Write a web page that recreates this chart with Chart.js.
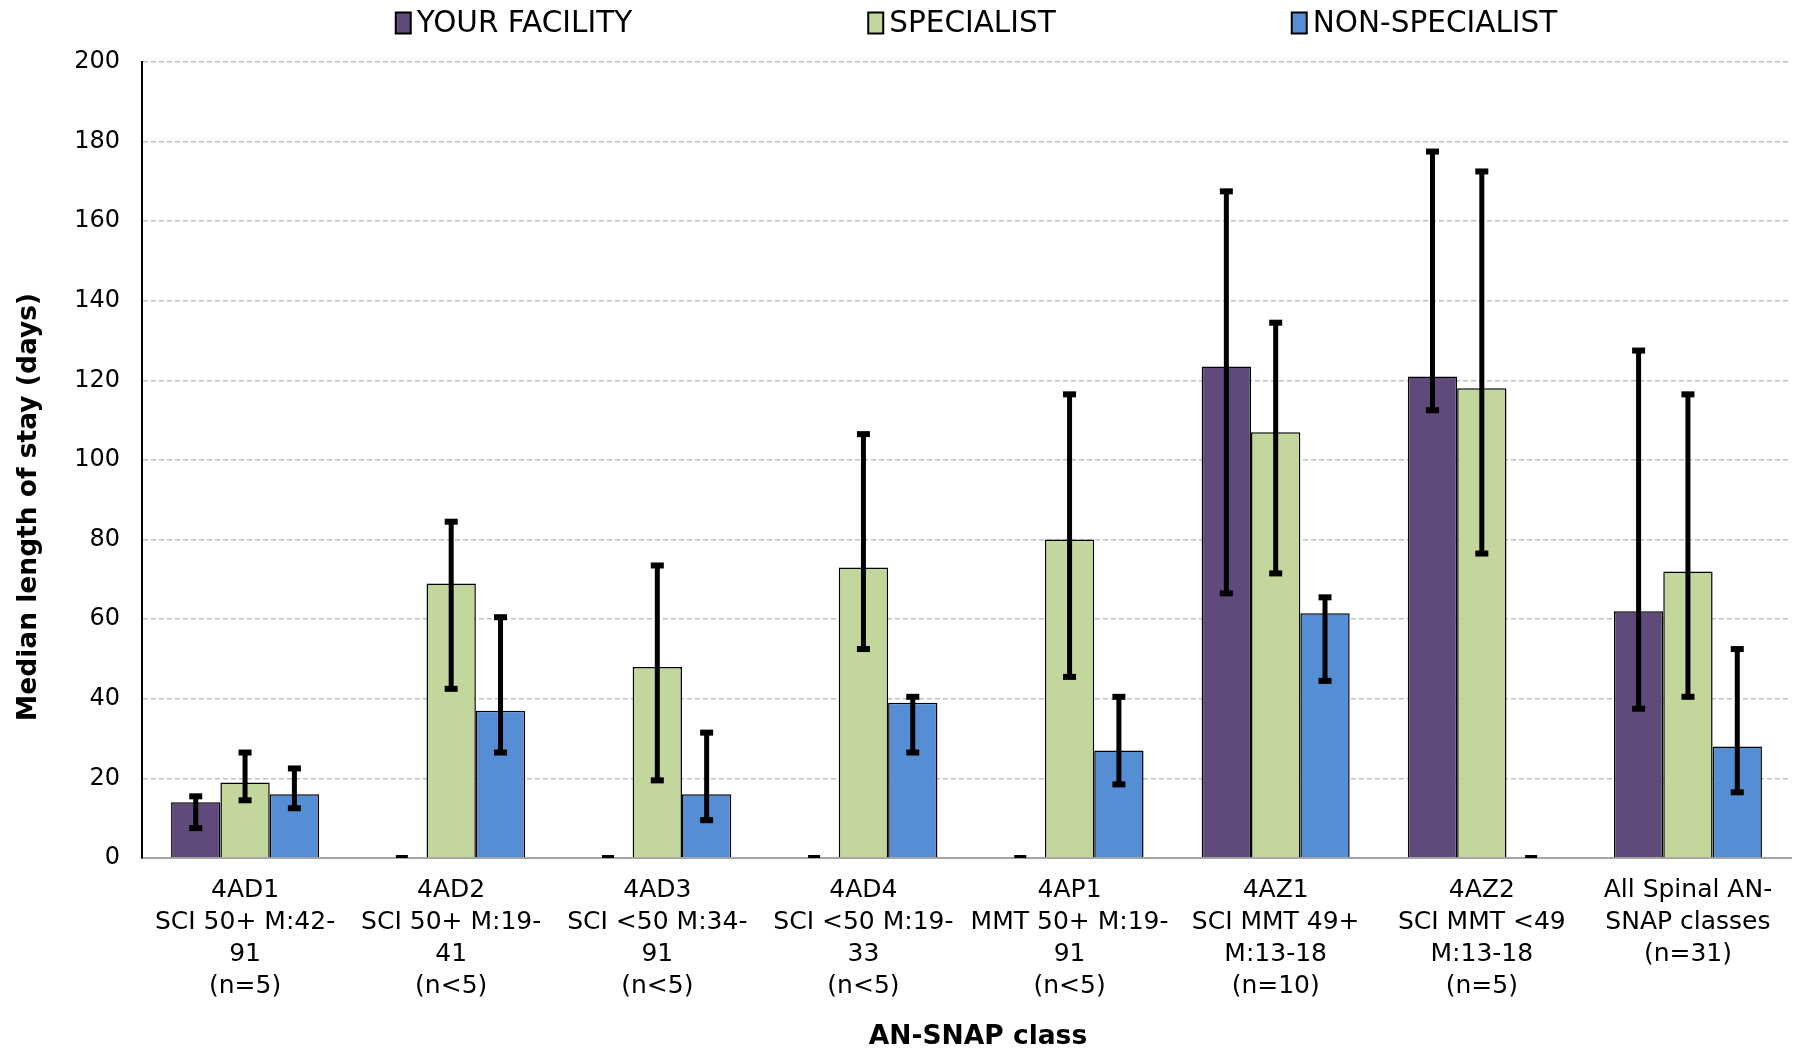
<!DOCTYPE html>
<html>
<head>
<meta charset="utf-8">
<script src="https://cdn.jsdelivr.net/npm/chart.js@4.4.1/dist/chart.umd.min.js"></script>
<style>
  html, body { margin: 0; padding: 0; background: #fff; }
  #wrap { width: 1798px; height: 1052px; }
</style>
</head>
<body>
<div id="wrap"><canvas id="myChart" width="1798" height="1052"></canvas></div>
<script>
// categorias (lineas del eje X)
const classLabels = [
  ["4AD1", "SCI 50+ M:42-", "91", "(n=5)"],
  ["4AD2", "SCI 50+ M:19-", "41", "(n<5)"],
  ["4AD3", "SCI <50 M:34-", "91", "(n<5)"],
  ["4AD4", "SCI <50 M:19-", "33", "(n<5)"],
  ["4AP1", "MMT 50+ M:19-", "91", "(n<5)"],
  ["4AZ1", "SCI MMT 49+", "M:13-18", "(n=10)"],
  ["4AZ2", "SCI MMT <49", "M:13-18", "(n=5)"],
  ["All Spinal AN-", "SNAP classes", "(n=31)"]
];
const seriesNames = ["YOUR FACILITY", "SPECIALIST", "NON-SPECIALIST"];

const facility      = [14, 0, 0, 0, 0, 123.5, 121, 62];
const facilityLow   = [7, 0, 0, 0, 0, 66, 112, 37];
const facilityHigh  = [16, 0, 0, 0, 0, 168, 178, 128];

const specialist     = [19, 69, 48, 73, 80, 107, 118, 72];
const specialistLow  = [14, 42, 19, 52, 45, 71, 76, 40];
const specialistHigh = [27, 85, 74, 107, 117, 135, 173, 117];

const nonSpecialist     = [16, 37, 16, 39, 27, 61.5, 0, 28];
const nonSpecialistLow  = [12, 26, 9, 26, 18, 44, 0, 16];
const nonSpecialistHigh = [23, 61, 32, 41, 41, 66, 0, 53];

const yTicks = [0, 20, 40, 60, 80, 100, 120, 140, 160, 180, 200];

const FONT = "'DejaVu Sans', sans-serif";

// barras de error + leyenda + titulos de ejes
const extrasPlugin = {
  id: 'extras',
  afterDatasetsDraw(chart) {
    const ctx = chart.ctx;
    const yScale = chart.scales.y;
    chart.data.datasets.forEach((ds, i) => {
      const meta = chart.getDatasetMeta(i);
      meta.data.forEach((bar, j) => {
        const lo = yScale.getPixelForValue(ds.errLow[j]);
        const hi = yScale.getPixelForValue(ds.errHigh[j]);
        ctx.save();
        ctx.fillStyle = '#000';
        if (ds.errHigh[j] === 0) {
          // marca minima en cero
          ctx.fillRect(bar.x - 6, lo - 3, 12, 3);
        } else {
          ctx.fillRect(bar.x - 2.5, hi, 5, lo - hi);
          ctx.fillRect(bar.x - 6.5, hi - 1, 13, 6);
          ctx.fillRect(bar.x - 6.5, lo - 5, 13, 6);
        }
        ctx.restore();
      });
    });
  },
  afterDraw(chart) {
    const ctx = chart.ctx;
    const area = chart.chartArea;
    ctx.save();
    // leyenda
    ctx.font = "29.5px " + FONT;
    ctx.textBaseline = 'middle';
    const gap = 236, boxW = 15, boxH = 21, boxGap = 6;
    const widths = chart.data.datasets.map(ds => boxW + boxGap + ctx.measureText(ds.label).width);
    const total = widths.reduce((a, b) => a + b, 0) + gap * (widths.length - 1);
    let x = (area.left + area.right) / 2 + 10 - total / 2;
    const ly = 23;
    chart.data.datasets.forEach((ds, i) => {
      ctx.fillStyle = ds.backgroundColor;
      ctx.fillRect(x, ly - boxH / 2, boxW, boxH);
      ctx.strokeStyle = '#000';
      ctx.lineWidth = 2;
      ctx.strokeRect(x, ly - boxH / 2, boxW, boxH);
      ctx.fillStyle = '#000';
      ctx.textAlign = 'left';
      ctx.fillText(ds.label, x + boxW + boxGap, ly + 1);
      x += widths[i] + gap;
    });
    // titulos
    ctx.font = "bold 26.5px " + FONT;
    ctx.textAlign = 'center';
    ctx.fillText("AN-SNAP class", 978, 1037);
    ctx.translate(29, 507);
    ctx.rotate(-Math.PI / 2);
    ctx.fillText("Median length of stay (days)", 0, 0);
    ctx.restore();
  }
};

const ctx = document.getElementById('myChart').getContext('2d');
const myChart = new Chart(ctx, {
  type: 'bar',
  data: {
    labels: classLabels,
    datasets: [
      {
        label: seriesNames[0],
        data: facility,
        errLow: facilityLow,
        errHigh: facilityHigh,
        backgroundColor: '#604A7B',
        borderColor: '#000',
        borderWidth: 1.5
      },
      {
        label: seriesNames[1],
        data: specialist,
        errLow: specialistLow,
        errHigh: specialistHigh,
        backgroundColor: '#C3D69B',
        borderColor: '#000',
        borderWidth: 1.5
      },
      {
        label: seriesNames[2],
        data: nonSpecialist,
        errLow: nonSpecialistLow,
        errHigh: nonSpecialistHigh,
        backgroundColor: '#558ED5',
        borderColor: '#000',
        borderWidth: 1.5
      }
    ]
  },
  options: {
    responsive: false,
    animation: false,
    layout: { padding: { top: 62, right: 7, left: 0, bottom: 0 } },
    datasets: { bar: { categoryPercentage: 0.718, barPercentage: 1.0 } },
    plugins: {
      legend: { display: false },
      tooltip: { enabled: false }
    },
    scales: {
      x: {
        grid: { display: false, drawTicks: false },
        border: { display: true, color: '#A6A6A6', width: 2 },
        ticks: {
          color: '#000',
          font: { family: FONT, size: 25, lineHeight: 1.28 },
          padding: 16,
          maxRotation: 0,
          autoSkip: false
        },
        afterFit(scale) { scale.height = 194; }
      },
      y: {
        min: 0,
        max: 200,
        afterBuildTicks(scale) { scale.ticks = yTicks.map(v => ({ value: v })); },
        grid: {
          drawTicks: false,
          color: c => c.tick && c.tick.value === 0 ? 'rgba(0,0,0,0)' : '#BFBFBF',
          lineWidth: 1.5
        },
        border: { display: true, color: '#000', width: 2, dash: [5, 3] },
        ticks: {
          color: '#000',
          font: { family: FONT, size: 24 },
          padding: 22
        },
        afterFit(scale) { scale.width = 142; }
      }
    }
  },
  plugins: [extrasPlugin]
});
</script>
</body>
</html>
